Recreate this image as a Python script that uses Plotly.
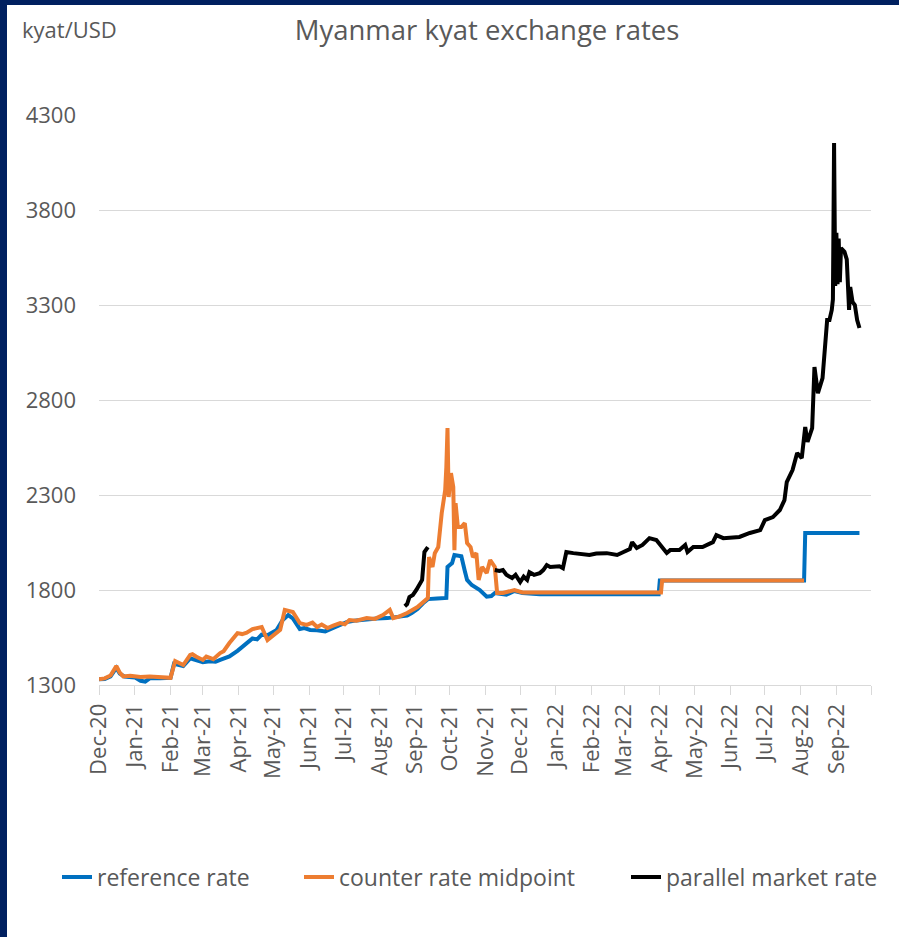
import plotly.graph_objects as go

# ---- reference rate (CBM) ----
ref_dates = [
    "2020-12-01", "2020-12-06", "2020-12-11", "2020-12-16", "2020-12-19", "2020-12-23",
    "2021-01-01", "2021-01-06", "2021-01-10", "2021-01-14", "2021-01-23", "2021-02-01",
    "2021-02-04", "2021-02-08", "2021-02-12", "2021-02-18", "2021-02-23", "2021-03-01",
    "2021-03-07", "2021-03-12", "2021-03-16", "2021-03-20", "2021-03-24", "2021-03-31",
    "2021-04-04", "2021-04-08", "2021-04-13", "2021-04-17", "2021-04-21", "2021-04-26",
    "2021-05-04", "2021-05-09", "2021-05-14", "2021-05-18", "2021-05-24", "2021-05-28",
    "2021-06-02", "2021-06-08", "2021-06-15", "2021-06-22", "2021-06-28", "2021-07-04",
    "2021-07-12", "2021-07-21", "2021-07-30", "2021-08-08", "2021-08-16", "2021-08-25",
    "2021-08-29", "2021-09-03", "2021-09-08", "2021-09-12", "2021-09-20", "2021-09-28",
    "2021-09-29", "2021-10-03", "2021-10-05", "2021-10-11", "2021-10-14", "2021-10-16",
    "2021-10-20", "2021-10-27", "2021-11-02", "2021-11-06", "2021-11-09", "2021-11-19",
    "2021-11-26", "2021-12-03", "2021-12-18", "2022-03-31", "2022-04-01", "2022-08-04",
    "2022-08-05", "2022-09-21",
]
ref_values = [
    1330, 1332, 1345, 1390, 1360, 1345,
    1340, 1322, 1318, 1335, 1336, 1338,
    1412, 1405, 1400, 1440, 1432, 1420,
    1425, 1422, 1432, 1440, 1450, 1480,
    1500, 1520, 1545, 1540, 1565, 1562,
    1590, 1640, 1668, 1650, 1595, 1600,
    1590, 1588, 1582, 1600, 1615, 1632,
    1640, 1647, 1650, 1652, 1658, 1665,
    1679, 1700, 1731, 1752, 1755, 1758,
    1921, 1942, 1984, 1978, 1900, 1853,
    1826, 1800, 1765, 1768, 1784, 1775,
    1795, 1784, 1778, 1778, 1850, 1850,
    2100, 2100,
]

# ---- counter rate midpoint ----
ctr_dates = [
    "2020-12-01", "2020-12-06", "2020-12-11", "2020-12-16", "2020-12-19", "2020-12-22",
    "2020-12-28", "2021-01-06", "2021-01-14", "2021-01-23", "2021-02-01", "2021-02-05",
    "2021-02-08", "2021-02-12", "2021-02-18", "2021-02-20", "2021-02-23", "2021-03-01",
    "2021-03-04", "2021-03-07", "2021-03-10", "2021-03-16", "2021-03-19", "2021-03-24",
    "2021-03-27", "2021-03-31", "2021-04-04", "2021-04-08", "2021-04-13", "2021-04-17",
    "2021-04-21", "2021-04-26", "2021-05-01", "2021-05-07", "2021-05-11", "2021-05-18",
    "2021-05-24", "2021-05-30", "2021-06-04", "2021-06-08", "2021-06-12", "2021-06-17",
    "2021-06-22", "2021-06-28", "2021-07-02", "2021-07-06", "2021-07-12", "2021-07-21",
    "2021-07-28", "2021-08-04", "2021-08-10", "2021-08-13", "2021-08-18", "2021-08-25",
    "2021-09-03", "2021-09-05", "2021-09-12", "2021-09-13", "2021-09-16", "2021-09-18",
    "2021-09-21", "2021-09-24", "2021-09-27", "2021-09-28", "2021-09-29", "2021-09-30",
    "2021-10-02", "2021-10-04", "2021-10-05", "2021-10-06", "2021-10-08", "2021-10-11",
    "2021-10-14", "2021-10-16", "2021-10-19", "2021-10-21", "2021-10-24", "2021-10-26",
    "2021-10-29", "2021-11-02", "2021-11-05", "2021-11-09", "2021-11-11", "2021-11-16",
    "2021-11-26", "2021-12-03", "2022-04-02", "2022-04-03", "2022-08-04",
]
ctr_values = [
    1330, 1335, 1350, 1400, 1365, 1345,
    1348, 1342, 1345, 1340, 1338, 1426,
    1415, 1405, 1458, 1462, 1450, 1432,
    1450, 1442, 1436, 1468, 1478, 1521,
    1545, 1573, 1568, 1575, 1594, 1598,
    1605, 1537, 1560, 1590, 1695, 1684,
    1626, 1616, 1628, 1605, 1618, 1600,
    1612, 1626, 1620, 1642, 1638, 1652,
    1648, 1668, 1695, 1652, 1660, 1679,
    1710, 1721, 1758, 1973, 1921, 1994,
    2026, 2205, 2326, 2447, 2652, 2289,
    2415, 2342, 2010, 2257, 2131, 2131,
    2152, 2047, 2026, 1973, 1994, 1853,
    1921, 1889, 1958, 1921, 1784, 1784,
    1800, 1787, 1787, 1850, 1850,
]

# ---- parallel market rate (None marks a break in the series) ----
par_dates = [
    "2021-08-23", "2021-08-25", "2021-08-27", "2021-08-30", "2021-09-02", "2021-09-05",
    "2021-09-07", "2021-09-09", "2021-09-12", "2021-09-20",
    "2021-11-09", "2021-11-13", "2021-11-16", "2021-11-19", "2021-11-24", "2021-11-27",
    "2021-12-01", "2021-12-04", "2021-12-07", "2021-12-09", "2021-12-13", "2021-12-18",
    "2021-12-21", "2021-12-24", "2021-12-27",
    "2022-01-02", "2022-01-04", "2022-01-07", "2022-01-10", "2022-01-16", "2022-01-22",
    "2022-01-28", "2022-01-30", "2022-02-05", "2022-02-11", "2022-02-14", "2022-02-23",
    "2022-03-03", "2022-03-06", "2022-03-08", "2022-03-12", "2022-03-17", "2022-03-23",
    "2022-03-29", "2022-04-03", "2022-04-07", "2022-04-10", "2022-04-18", "2022-04-23",
    "2022-04-25", "2022-04-30", "2022-05-08", "2022-05-17", "2022-05-20", "2022-05-26",
    "2022-06-09", "2022-06-18", "2022-06-27", "2022-07-01", "2022-07-08", "2022-07-14",
    "2022-07-18", "2022-07-20", "2022-07-25", "2022-07-29", "2022-08-02", "2022-08-05",
    "2022-08-07", "2022-08-11", "2022-08-13", "2022-08-16", "2022-08-20", "2022-08-24",
    "2022-08-26", "2022-08-28", "2022-08-29", "2022-08-30", "2022-08-31", "2022-09-01",
    "2022-09-02", "2022-09-03", "2022-09-04", "2022-09-05", "2022-09-08", "2022-09-10",
    "2022-09-12", "2022-09-13", "2022-09-15", "2022-09-17", "2022-09-19", "2022-09-21",
]
par_values = [
    1715, 1726, 1763, 1774, 1800, 1837,
    1853, 2000, 2026, None,
    1905, 1900, 1905, 1880, 1863, 1880,
    1842, 1870, 1853, 1894, 1880, 1889,
    1905, 1931, 1921,
    1921, 1925, 1915, 2000, 1994, 1990,
    1984, 1984, 1992, 1994, 1994, 1984,
    2010, 2015, 2052, 2021, 2037, 2073,
    2063, 2026, 1995, 2010, 2010, 2037,
    2000, 2026, 2026, 2052, 2089, 2073,
    2079, 2100, 2115, 2168, 2184, 2221,
    2273, 2368, 2431, 2521, 2494, 2658,
    2579, 2652, 2973, 2836, 2915, 3221,
    3221, 3274, 3330, 4152, 3400, 3680,
    3410, 3650, 3420, 3600, 3580, 3540,
    3274, 3395, 3316, 3300, 3221, 3179,
]

# ---- axes ----
month_ticks = [
    "2020-12-01", "2021-01-01", "2021-02-01", "2021-03-01", "2021-04-01", "2021-05-01",
    "2021-06-01", "2021-07-01", "2021-08-01", "2021-09-01", "2021-10-01", "2021-11-01",
    "2021-12-01", "2022-01-01", "2022-02-01", "2022-03-01", "2022-04-01", "2022-05-01",
    "2022-06-01", "2022-07-01", "2022-08-01", "2022-09-01", "2022-10-01",
]
month_labels = [
    "Dec-20", "Jan-21", "Feb-21", "Mar-21", "Apr-21", "May-21",
    "Jun-21", "Jul-21", "Aug-21", "Sep-21", "Oct-21", "Nov-21",
    "Dec-21", "Jan-22", "Feb-22", "Mar-22", "Apr-22", "May-22",
    "Jun-22", "Jul-22", "Aug-22", "Sep-22", "",
]
y_ticks = [1300, 1800, 2300, 2800, 3300, 3800, 4300]

FONT = "Open Sans"
TEXT = "#595959"
GRID = "#d9d9d9"
NAVY = "#002060"

W, H = 899, 937
ML, MR, MT, MB = 99, 28, 115, 252
PW, PH = W - ML - MR, H - MT - MB

fig = go.Figure()
fig.add_trace(go.Scatter(x=ref_dates, y=ref_values, name="reference rate", mode="lines",
                         line=dict(color="#0070C0", width=4), legend="legend",
                         showlegend=True))
fig.add_trace(go.Scatter(x=ctr_dates, y=ctr_values, name="counter rate midpoint", mode="lines",
                         line=dict(color="#ED7D31", width=4), legend="legend2",
                         showlegend=True))
fig.add_trace(go.Scatter(x=par_dates, y=par_values, name="parallel market rate", mode="lines",
                         line=dict(color="#000000", width=4), connectgaps=False,
                         legend="legend3", showlegend=True))


def px_x(px):
    return (px - ML) / PW


def px_y(py):
    return (H - MB - py) / PH


legend_style = dict(orientation="h", xref="container", yref="container",
                    yanchor="middle", xanchor="left", y=1 - 877 / H,
                    font=dict(family=FONT, size=23, color=TEXT),
                    bgcolor="rgba(0,0,0,0)", borderwidth=0)

fig.update_layout(
    width=W, height=H,
    showlegend=True,
    margin=dict(l=ML, r=MR, t=MT, b=MB),
    paper_bgcolor="white", plot_bgcolor="white",
    font=dict(family=FONT, color=TEXT),
    title=dict(text="Myanmar kyat exchange rates", xref="paper", x=px_x(487), xanchor="center",
               yref="container", y=1 - 30 / H, yanchor="middle",
               font=dict(family=FONT, size=27.5, color=TEXT)),
    xaxis=dict(type="date", range=["2020-12-01", "2022-10-01"],
               tickmode="array", tickvals=month_ticks, ticktext=month_labels,
               tickangle=-90, ticks="outside", ticklen=9, tickcolor=GRID, tickwidth=1,
               showline=True, linecolor=GRID, linewidth=1, showgrid=False, zeroline=False,
               tickfont=dict(family=FONT, size=22, color=TEXT)),
    yaxis=dict(range=[1300, 4300], tickmode="array", tickvals=y_ticks,
               showgrid=True, gridcolor=GRID, gridwidth=1, zeroline=False,
               ticks="", ticklabelstandoff=22,
               tickfont=dict(family=FONT, size=22, color=TEXT)),
    legend=dict(x=57 / W, **legend_style),
    legend2=dict(x=299 / W, **legend_style),
    legend3=dict(x=626 / W, **legend_style),
    annotations=[dict(text="kyat/USD", xref="paper", yref="paper", x=px_x(20), y=px_y(29),
                      xanchor="left", yanchor="middle", showarrow=False,
                      font=dict(family=FONT, size=22, color=TEXT))],
    shapes=[
        # frame bands along the left and top edges
        dict(type="rect", xref="paper", yref="paper", layer="above", line=dict(width=0),
             fillcolor=NAVY, x0=px_x(0), x1=px_x(7), y0=px_y(H), y1=px_y(0)),
        dict(type="rect", xref="paper", yref="paper", layer="above", line=dict(width=0),
             fillcolor=NAVY, x0=px_x(0), x1=px_x(W), y0=px_y(5), y1=px_y(0)),
    ],
)

fig.write_html("out.html")
